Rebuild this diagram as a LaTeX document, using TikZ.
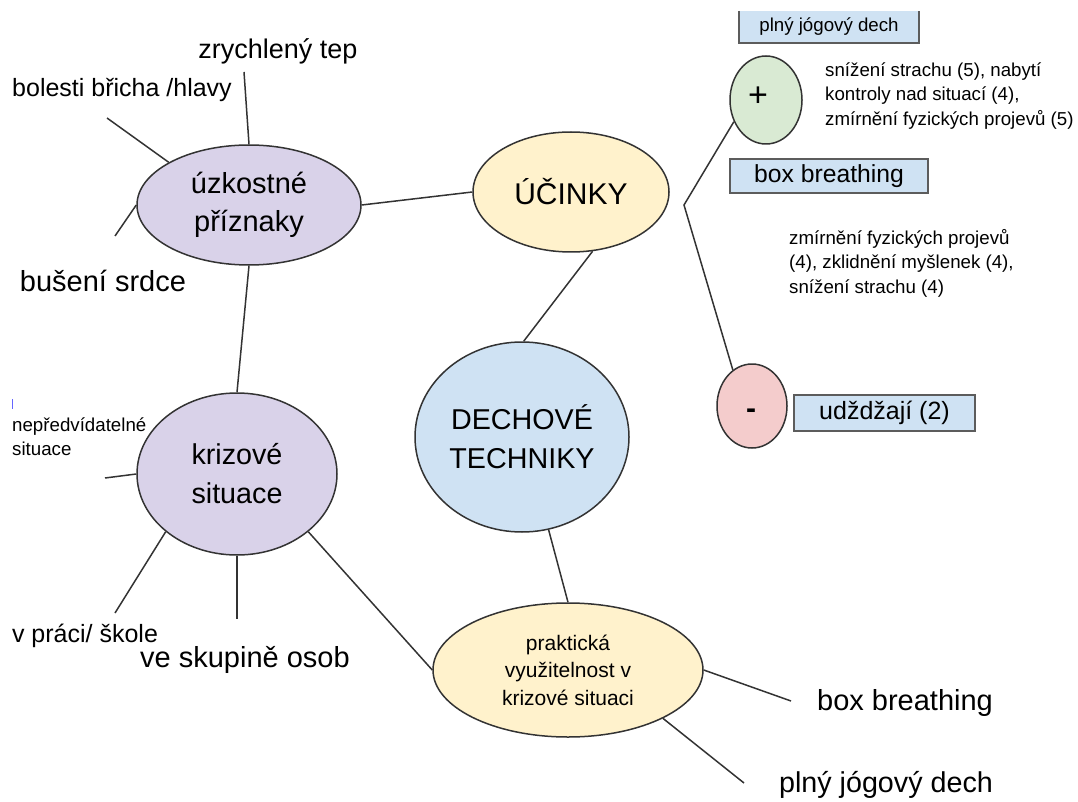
\documentclass[tikz,border=0pt]{standalone}
\usepackage{fontspec}
\setmainfont{Liberation Sans}
\usetikzlibrary{shapes.geometric}
\definecolor{lav}{HTML}{D9D2E9}
\definecolor{yel}{HTML}{FFF2CC}
\definecolor{blu}{HTML}{CFE2F3}
\definecolor{grn}{HTML}{D9EAD3}
\definecolor{pnk}{HTML}{F4CCCC}
\definecolor{ink}{HTML}{333333}
\newcommand{\fs}[2]{\fontsize{#1}{#2}\selectfont}
\tikzset{
  bub/.style={ellipse, draw=ink, line width=1.5pt, inner sep=0pt, align=center, text=black},
  conn/.style={draw=ink, line width=1.5pt},
  lbl/.style={inner sep=0pt, text=black},
  tbox/.style={rectangle, fill=blu, draw=ink!80, line width=1.5pt, inner sep=0pt, text=black}
}
\begin{document}
\begin{tikzpicture}[x=1pt,y=-1pt]
\useasboundingbox (0,0) rectangle (1078,802);
% main bubbles
\node[bub, fill=lav, minimum width=224pt, minimum height=120pt, font=\fs{29}{38}] (uz) at (249,205) {úzkostné\\příznaky};
\node[bub, fill=yel, minimum width=196pt, minimum height=120pt, font=\fs{30}{38}] (uc) at (571,192) {ÚČINKY};
\node[bub, fill=blu, minimum width=214pt, minimum height=190pt, font=\fs{28.7}{39}] (dt) at (522,437) {DECHOVÉ\\TECHNIKY};
\node[bub, fill=lav, minimum width=200pt, minimum height=162pt, font=\fs{28.7}{39}] (kr) at (237,474) {krizové\\situace};
\node[bub, fill=yel, minimum width=270pt, minimum height=134pt, font=\fs{21}{27.5}] (pr) at (568,670) {praktická\\využitelnost v\\krizové situaci};
\node[bub, fill=grn, minimum width=72pt, minimum height=88pt] (plus) at (766,100) {};
\node[lbl, font=\fs{34}{38}] (plustxt) at (758,97) {+};
\node[bub, fill=pnk, minimum width=70pt, minimum height=84pt] (minus) at (752,406) {};
\node[lbl, font=\fs{30}{34}\bfseries] (minustxt) at (751,410) {\vphantom{+}-};
% boxes
\node[rectangle, fill=blu, inner sep=0pt, minimum width=180pt, minimum height=32pt, font=\fs{18.7}{22}] (tb) at (829,27) {plný jógový dech};
\draw[draw=ink!80, line width=1.5pt] (tb.north west) -- (tb.south west) -- (tb.south east) -- (tb.north east);
\node[tbox, minimum width=198pt, minimum height=34pt, font=\fs{24.7}{28}] (bb) at (829,176) {box breathing};
\node[tbox, minimum width=181pt, minimum height=36pt, font=\fs{25}{28}] (ud) at (884.5,413) {udždžají (2)};
% texts
\node[lbl, font=\fs{27}{32}] (zt) at (278,51) {zrychlený tep};
\node[lbl, font=\fs{25}{30}] (bo) at (122,90) {bolesti břicha /hlavy};
\node[lbl, font=\fs{29}{34}] (bs) at (103,281) {bušení srdce};
\node[lbl, anchor=west, align=left, font=\fs{18.7}{24}] (ne) at (12,437) {nepředvídatelné\\situace};
\node[lbl, font=\fs{25}{30}] (vp) at (85,636) {v práci/ škole};
\node[lbl, font=\fs{29}{34}] (vs) at (245,660) {ve skupině osob};
\node[lbl, font=\fs{29}{34}] (bx) at (905,703) {box breathing};
\node[lbl, font=\fs{28.7}{34}] (pj) at (886,785) {plný jógový dech};
\node[lbl, anchor=west, align=left, font=\fs{18.7}{24.5}] (t1) at (825,96) {snížení strachu (5), nabytí\\kontroly nad situací (4),\\zmírnění fyzických projevů (5)};
\node[lbl, anchor=west, align=left, font=\fs{18.7}{24.5}] (t2) at (789,263) {zmírnění fyzických projevů\\(4), zklidnění myšlenek (4),\\snížení strachu (4)};
% cursor mark
\draw[blue!60, line width=0.8pt] (12,399) -- (12,409);
% free ends
\coordinate (ezt) at (244,72);
\coordinate (ebo) at (107,118);
\coordinate (ebs) at (115,236);
\coordinate (ene) at (105,478);
\coordinate (evp) at (115,613);
\coordinate (evs) at (237,619);
\coordinate (ebx) at (791,701);
\coordinate (epj) at (744,783);
\coordinate (br) at (684,205);
% connectors
\draw[conn] (uz.0) -- (uc.180);
\draw[conn] (uc.-70) -- (dt.89);
\draw[conn] (dt.-74) -- (pr.90);
\draw[conn] (uz.-90) -- (kr.90);
\draw[conn] (kr.-39) -- (pr.180);
\draw[conn] (uz.90) -- (ezt);
\draw[conn] (uz.152) -- (ebo);
\draw[conn] (uz.180) -- (ebs);
\draw[conn] (kr.180) -- (ene);
\draw[conn] (kr.-141) -- (evp);
\draw[conn] (kr.-90) -- (evs);
\draw[conn] (pr.0) -- (ebx);
\draw[conn] (pr.-27) -- (epj);
\draw[conn] (plus.-146) -- (br) -- (minus.118);
\end{tikzpicture}
\end{document}
